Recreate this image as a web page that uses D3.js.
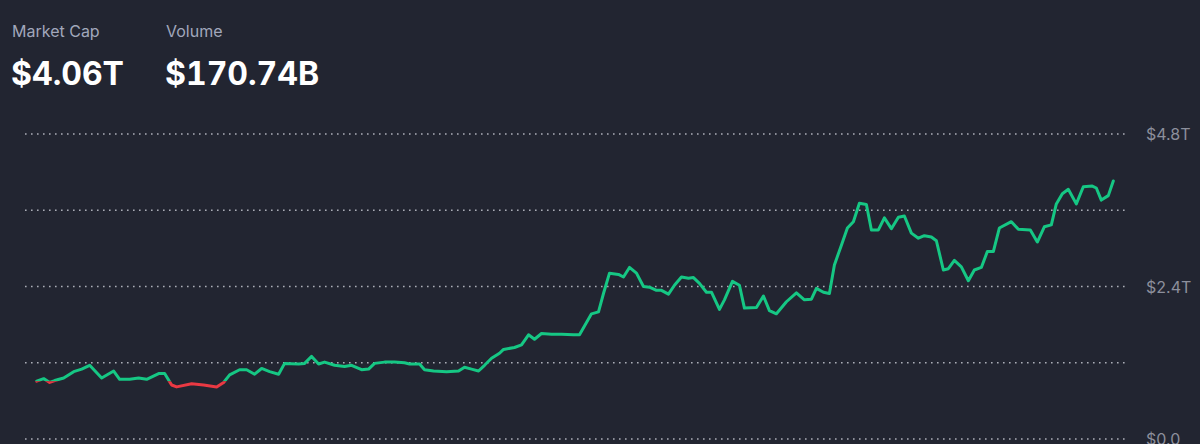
<!DOCTYPE html>
<html>
<head>
<meta charset="utf-8">
<script src="https://cdn.jsdelivr.net/npm/d3@7"></script>
<style>
  html, body { margin: 0; padding: 0; background: #222531; }
  svg { display: block; }
</style>
</head>
<body>
<svg id="chart" width="1200" height="444"></svg>
<script>
// ---- data ----
const headerLabels = ["Market Cap", "Volume"];
const headerValues = ["$4.06T", "$170.74B"];

// day offsets from start of the window
const days = [0,7,13,18,27,37,45,53,65,77,83,93,102,110,122,128,135,140,155,167,180,187,193,203,210,218,225,233,242,248,
262,268,275,282,288,298,308,315,325,332,338,348,358,368,373,383,388,397,410,422,428,435,442,448,455,463,467,478,485,492,
498,505,515,525,537,543,548,555,562,567,573,582,587,593,600,607,613,620,625,632,638,645,652,657,663,670,675,683,688,696,
703,708,720,727,733,740,750,760,768,775,780,787,793,798,805,811,817,823,830,835,842,848,855,862,868,875,882,888,895,900,
907,912,918,925,932,938,945,951,957,963,975,982,994,1001,1008,1015,1020,1026,1032,1040,1047,1056,1060,1065,1072,1077];

// market cap in trillions USD
const marketCap = [0.91,0.95,0.89,0.92,0.96,1.06,1.10,1.16,0.96,1.07,0.94,0.94,0.96,0.94,1.03,1.03,0.85,0.82,0.87,0.85,0.82,0.89,1.01,1.09,1.09,1.02,1.11,1.06,1.02,1.19,
1.18,1.19,1.30,1.18,1.21,1.16,1.14,1.16,1.09,1.10,1.19,1.21,1.21,1.20,1.18,1.18,1.09,1.07,1.06,1.07,1.13,1.10,1.07,1.16,1.27,1.35,1.41,1.44,1.48,1.64,
1.57,1.66,1.65,1.65,1.64,1.64,1.78,1.97,2.00,2.29,2.61,2.59,2.55,2.70,2.61,2.40,2.39,2.34,2.34,2.28,2.42,2.55,2.53,2.54,2.45,2.31,2.31,2.04,2.19,2.48,
2.42,2.06,2.07,2.25,2.02,1.97,2.16,2.30,2.19,2.20,2.37,2.31,2.29,2.74,3.05,3.32,3.42,3.71,3.69,3.29,3.29,3.48,3.31,3.49,3.51,3.24,3.16,3.20,3.18,3.12,
2.66,2.68,2.81,2.71,2.49,2.66,2.70,2.95,2.95,3.32,3.42,3.30,3.29,3.10,3.34,3.37,3.70,3.86,3.93,3.70,3.97,3.98,3.95,3.76,3.83,4.06];

const gridValues = [0, 1.2, 2.4, 3.6, 4.8];
const tickLabels = ["$0.0", "", "$2.4T", "", "$4.8T"];

// ---- drawing ----
const svg = d3.select("#chart");
const W = 1200, H = 444;
const up = "#16c784", down = "#ea3943";

const x = d3.scaleLinear().domain([0, 1077]).range([36.7, 1113.3]);
const y = d3.scaleLinear().domain([0, 4.8]).range([439, 134]);

// header
const hdr = svg.append("g");
headerLabels.forEach((lab, i) => {
  const hx = i === 0 ? 12 : 166;
  hdr.append("text").attr("x", hx).attr("y", 37)
    .attr("font-family", "Inter, sans-serif").attr("font-size", 16)
    .attr("fill", "#a1a7bb").text(lab);
  hdr.append("text").attr("x", hx - 1).attr("y", 85)
    .attr("font-family", "Inter, sans-serif").attr("font-size", 32).attr("font-weight", 700)
    .style("font-variant-numeric", "tabular-nums")
    .attr("fill", "#ffffff").text(headerValues[i]);
});

// grid
const grid = svg.append("g");
grid.selectAll("line").data(gridValues).join("line")
  .attr("x1", 25).attr("x2", 1127)
  .attr("y1", d => y(d)).attr("y2", d => y(d))
  .attr("stroke", "#c3c5cf").attr("stroke-opacity", 0.85)
  .attr("stroke-width", 1.6).attr("stroke-dasharray", "1.6,4.4");

// axis labels
const axis = d3.axisRight(y).tickValues(gridValues)
  .tickFormat((d, i) => tickLabels[i]).tickSize(0).tickPadding(0);
const ag = svg.append("g").attr("transform", "translate(1146,0)").call(axis);
ag.select(".domain").remove();
ag.selectAll("text").attr("font-family", "Inter, sans-serif").attr("font-size", 16)
  .attr("fill", "#8c8f9c").attr("dy", "0.35em");

// line split at the starting value
const pts = days.map((d, i) => [d, marketCap[i]]);
const base = y(marketCap[0]);
const defs = svg.append("defs");
defs.append("clipPath").attr("id", "clipUp").append("rect")
  .attr("x", 0).attr("y", 0).attr("width", W).attr("height", base);
defs.append("clipPath").attr("id", "clipDown").append("rect")
  .attr("x", 0).attr("y", base).attr("width", W).attr("height", H - base);

const line = d3.line().x(d => x(d[0])).y(d => y(d[1])).curve(d3.curveLinear);
[["clipUp", up], ["clipDown", down]].forEach(([cid, col]) => {
  svg.append("path").datum(pts)
    .attr("clip-path", `url(#${cid})`)
    .attr("fill", "none").attr("stroke", col).attr("stroke-width", 3)
    .attr("stroke-linejoin", "round").attr("stroke-linecap", "round")
    .attr("d", line);
});
</script>
</body>
</html>
